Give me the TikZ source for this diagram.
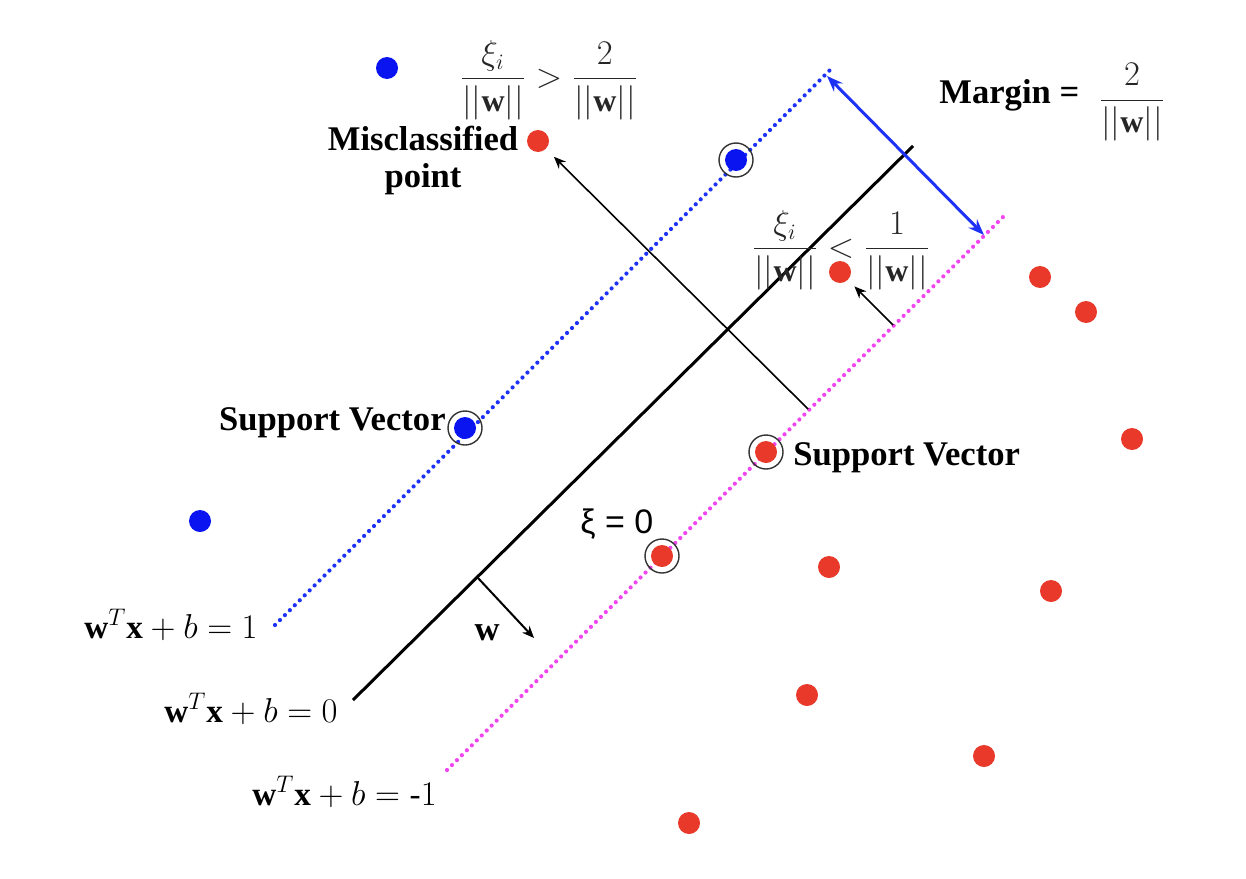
\documentclass[tikz,border=0pt]{standalone}
\usepackage{fontspec}
\setmainfont{Liberation Serif}
\newfontfamily\labsans{Liberation Sans}
\usepackage{tikz}
\usetikzlibrary{arrows.meta}
\definecolor{ptBlue}{HTML}{0A14F0}
\definecolor{ptRed}{HTML}{E8392A}
\definecolor{lnBlue}{HTML}{1E32F5}
\definecolor{lnMag}{HTML}{F046F0}

\begin{document}
\begin{tikzpicture}[x=0.5pt, y=-0.5pt,
  bdot/.style={circle, fill=ptBlue, inner sep=0pt, minimum size=11pt},
  rdot/.style={circle, fill=ptRed, inner sep=0pt, minimum size=11pt},
  ring/.style={circle, draw=black!80, line width=0.7pt, inner sep=0pt, minimum size=17pt},
  dotline/.style={line width=2.1pt, line cap=round, dash pattern=on 0pt off 3.5pt},
  lbl/.style={inner sep=0pt, font=\fontsize{17.3}{18.5}\selectfont\bfseries},
  eqn/.style={inner sep=0pt, font=\fontsize{16.6}{19}\selectfont},
  frc/.style={font=\fontsize{16}{19}\selectfont, text=black!85}]
  \useasboundingbox (0,0) rectangle (1246,878);

  % Hyperplanes: +1 (blue), 0 (black), -1 (magenta)
  \coordinate (posTop) at (830,70);   \coordinate (posBot) at (275,625);
  \coordinate (midTop) at (913,146);  \coordinate (midBot) at (353,700);
  \coordinate (negTop) at (1007,213); \coordinate (negBot) at (447,770);
  \draw[dotline, lnBlue] (posBot) -- (posTop);
  \draw[line width=1.5pt] (midBot) -- (midTop);
  \draw[dotline, lnMag] (negBot) -- (negTop);

  % Blue class
  \foreach \x/\y/\n in {387/68/b1, 200/521/b2, 736/160/svB1, 465/428/svB2}{
    \node[bdot] (\n) at (\x,\y) {};
  }
  % Red class
  \foreach \x/\y/\n in {538/141/misPt, 840/272/slackPt, 1040/277/r1, 1086/312/r2,
      1132/439/r3, 829/567/r4, 1051/591/r5, 807/695/r6, 984/756/r7, 689/823/r8,
      766/452/svR1, 662/556/svR2}{
    \node[rdot] (\n) at (\x,\y) {};
  }
  % Rings round the support vectors
  \foreach \n in {svB1, svB2, svR1, svR2}{
    \node[ring] (ring\n) at (\n) {};
  }

  % Margin between the two outer hyperplanes
  \coordinate (mgA) at (827,76);
  \coordinate (mgB) at (984,235);
  \draw[{Stealth[length=8pt,width=6pt]}-{Stealth[length=8pt,width=6pt]},
    lnBlue, line width=1.5pt] (mgA) -- (mgB);

  % Normal vector w
  \coordinate (wFoot) at (478,578);
  \coordinate (wTip) at (534,638);
  \draw[-{Stealth[length=6pt,width=5pt]}, line width=1pt] (wFoot) -- (wTip);

  % Slack arrows from the -1 hyperplane
  \coordinate (misFoot) at (808,409);
  \coordinate (slackFoot) at (893,325);
  \draw[-{Stealth[length=6pt,width=5pt]}, line width=0.8pt, shorten >=5.5pt]
    (misFoot) -- (misPt);
  \draw[-{Stealth[length=6pt,width=5pt]}, line width=0.8pt, shorten >=4.5pt]
    (slackFoot) -- (slackPt);

  % Labels
  \node[eqn, anchor=base east] (eqPos) at (258,638) {$\mathbf{w}^T\mathbf{x} + b = 1$};
  \node[eqn, anchor=base east] (eqMid) at (338,722) {$\mathbf{w}^T\mathbf{x} + b = 0$};
  \node[eqn, anchor=base east] (eqNeg) at (437,805) {$\mathbf{w}^T\mathbf{x} + b = \mbox{-}1$};
  \node[lbl, anchor=base] (wLab) at (487,640) {w};
  \node[lbl, anchor=base east] (svLabL) at (446,430) {Support Vector};
  \node[lbl, anchor=base west] (svLabR) at (793,465) {Support Vector};
  \node[inner sep=0pt, font=\labsans\fontsize{17}{20}\selectfont, anchor=base west]
    (xiZero) at (580,533) {ξ = 0};
  \node[lbl, align=center] (misLab) at (423,160) {Misclassified\\point};
  \node[frc] (xiBig) at (549,80)
    {$\displaystyle\frac{\xi_i}{||\mathbf{w}||} > \frac{2}{||\mathbf{w}||}$};
  \node[frc] (xiSmall) at (841,250)
    {$\displaystyle\frac{\xi_i}{||\mathbf{w}||} < \frac{1}{||\mathbf{w}||}$};
  \node[lbl, anchor=base west] (mgLab) at (939,103) {Margin =};
  \node[frc] (mgFrac) at (1132,102) {$\displaystyle\frac{2}{||\mathbf{w}||}$};

\end{tikzpicture}
\end{document}
